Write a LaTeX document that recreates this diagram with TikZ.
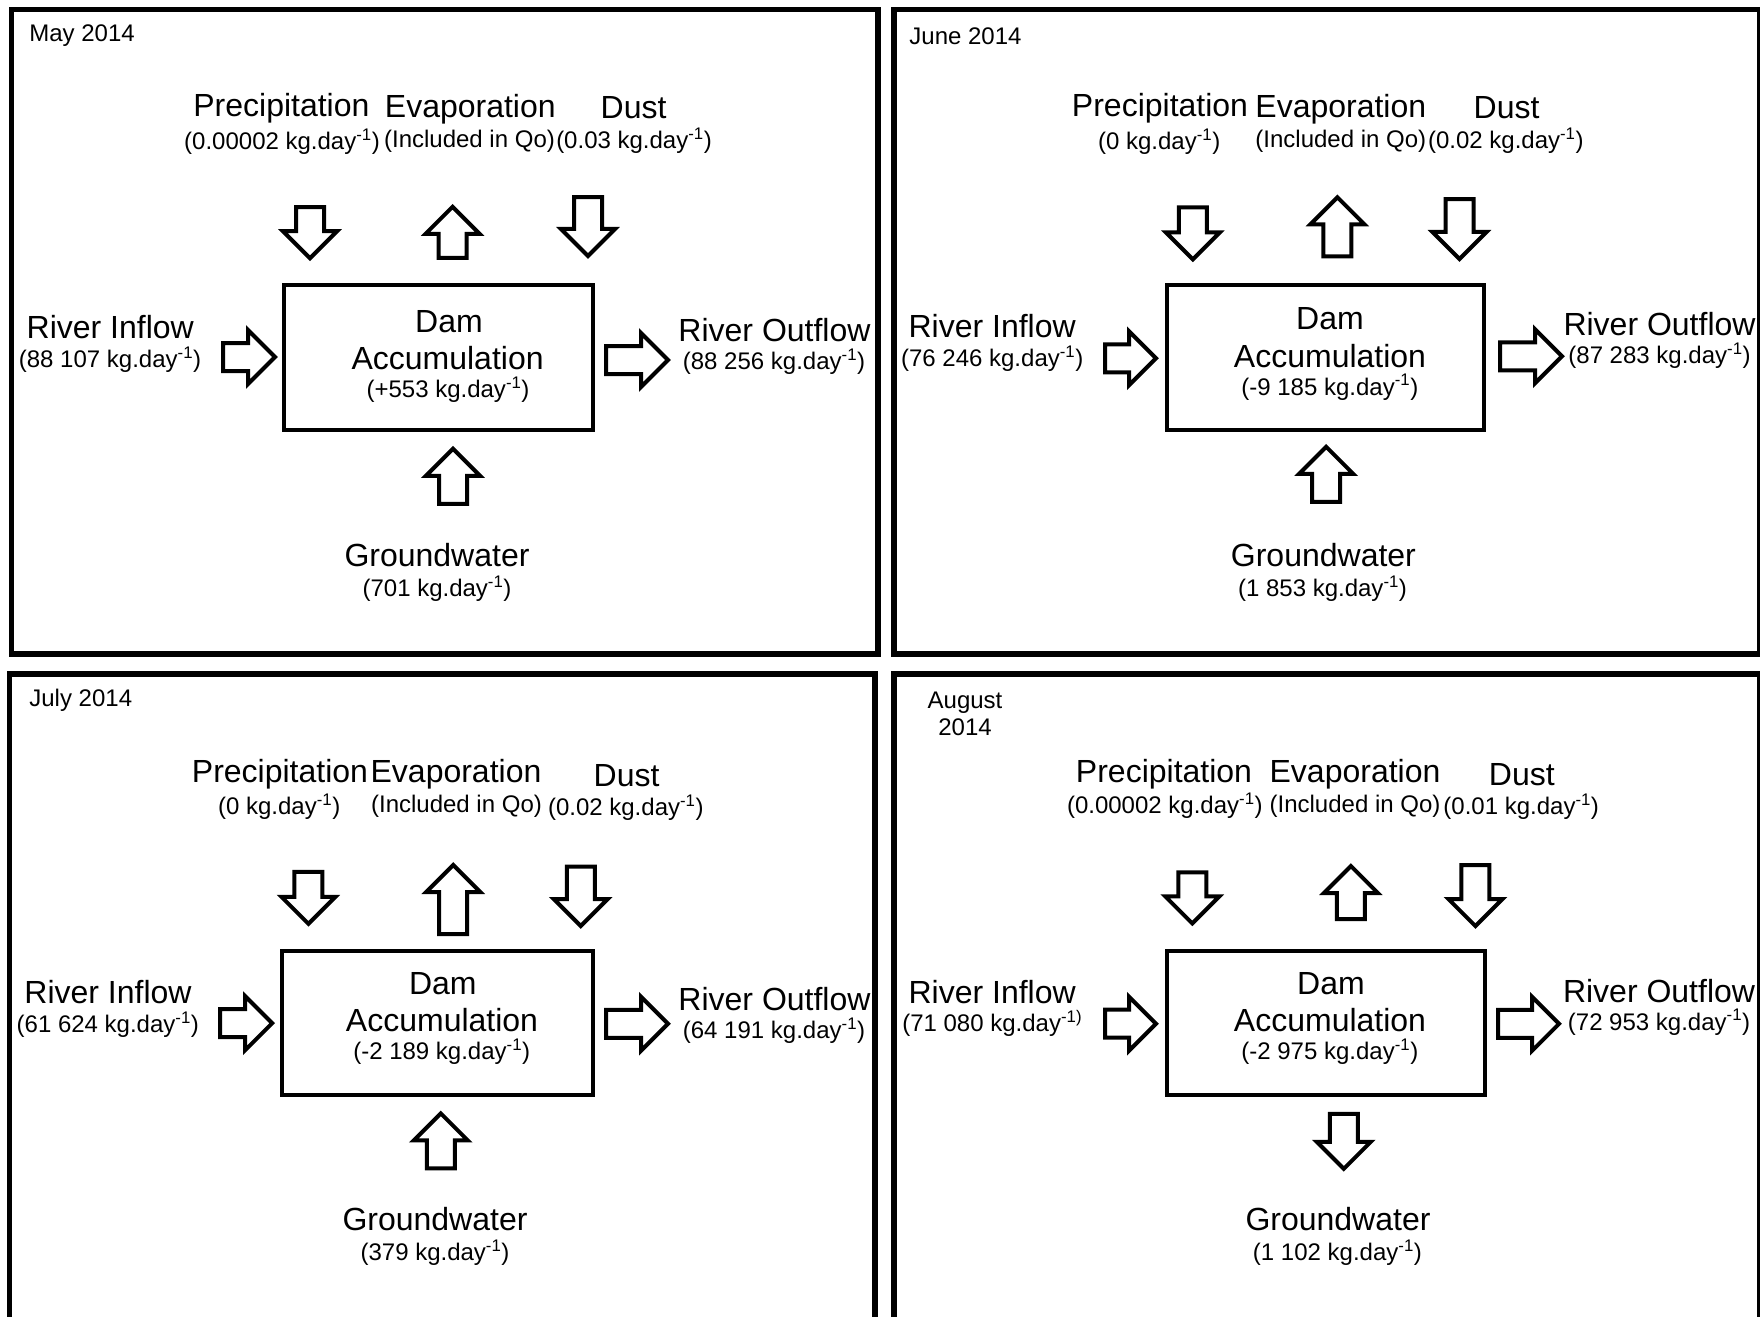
\documentclass[tikz,border=0pt]{standalone}
\usepackage{fontspec}
\setmainfont{Liberation Sans}
\usetikzlibrary{shapes.arrows}

\begin{document}
\begin{tikzpicture}[x=1pt,y=-1pt]
        \tikzset{big/.style={inner sep=0pt, font=\fontsize{32}{38}\selectfont},
                 small/.style={inner sep=0pt, font=\fontsize{24}{27.5}\selectfont},
                 panel/.style={draw, line width=5.5pt},
                 dambox/.style={draw, line width=4pt, inner sep=0pt, outer sep=0pt},
                 fat/.style={single arrow, draw, line width=4pt, fill=white, inner sep=12pt, outer sep=0pt,
                             single arrow head extend=13pt, single arrow tip angle=90, anchor=tip, minimum height=#1}}
        \useasboundingbox (0,0) rectangle (1760,1316);
        \draw [panel] (11.5,9.5) rectangle (878,654);
        \draw [panel] (894,9.5) rectangle (1760,654);
        \draw [panel] (9.5,674) rectangle (875,1330);
        \draw [panel] (894,674) rectangle (1760,1330);

        \node [small, anchor=west] (may) at (29.2,35.8) {May 2014};
        \node [big]   (prec1)  at (281.4,108.6) {Precipitation};
        \node [small] (precv1) at (282,142)     {(0.00002 kg.day\textsuperscript{-1})};
        \node [big]   (evap1)  at (470.3,109.4) {Evaporation};
        \node [small] (evapv1) at (469.5,141)   {(Included in Qo)};
        \node [big]   (dust1)  at (633.6,108)   {Dust};
        \node [small] (dustv1) at (634,141)     {(0.03 kg.day\textsuperscript{-1})};
        \node [big]   (in1)    at (110.3,327.5) {River Inflow};
        \node [small] (inv1)   at (110,360)     {(88 107 kg.day\textsuperscript{-1})};
        \node [big]   (out1)   at (774.5,330.4) {River Outflow};
        \node [small] (outv1)  at (774,362)     {(88 256 kg.day\textsuperscript{-1})};
        \node [dambox, minimum width=308.6, minimum height=144.9] (box1) at (438.6,357.4) {};
        \node [big]   (dam1)   at (449,322)     {Dam};
        \node [big]   (acc1)   at (447.6,357.8) {Accumulation};
        \node [small] (net1)   at (448,389.3)   {(+553 kg.day\textsuperscript{-1})};
        \node [big]   (gw1)    at (437,554.8)   {Groundwater};
        \node [small] (gwv1)   at (437,588.4)   {(701 kg.day\textsuperscript{-1})};
        \node [fat=51, rotate=-90] (pa1) at (310,258.2)   {};
        \node [fat=51, rotate=90]  (ea1) at (452.6,206.8) {};
        \node [fat=59, rotate=-90] (da1) at (588,256)     {};
        \node [fat=52]             (ia1) at (275,357)     {};
        \node [fat=62]             (oa1) at (668,360)     {};
        \node [fat=55, rotate=90]  (ga1) at (453,448.8)   {};

        \node [small, anchor=west] (june) at (909.2,35.8) {June 2014};
        \node [big]   (prec2)  at (1160,108.6)   {Precipitation};
        \node [small] (precv2) at (1159.2,142)   {(0 kg.day\textsuperscript{-1})};
        \node [big]   (evap2)  at (1340.8,109)   {Evaporation};
        \node [small] (evapv2) at (1340.8,141)   {(Included in Qo)};
        \node [big]   (dust2)  at (1506.6,108)   {Dust};
        \node [small] (dustv2) at (1505.8,141)   {(0.02 kg.day\textsuperscript{-1})};
        \node [big]   (in2)    at (992.2,326)    {River Inflow};
        \node [small] (inv2)   at (992.2,358.6)  {(76 246 kg.day\textsuperscript{-1})};
        \node [big]   (out2)   at (1659.5,324)   {River Outflow};
        \node [small] (outv2)  at (1659.5,355.7) {(87 283 kg.day\textsuperscript{-1})};
        \node [dambox, minimum width=317.6, minimum height=145] (box2) at (1325.3,357.8) {};
        \node [big]   (dam2)   at (1330,319)     {Dam};
        \node [big]   (acc2)   at (1330,355.7)   {Accumulation};
        \node [small] (net2)   at (1329.8,387.2) {(-9 185 kg.day\textsuperscript{-1})};
        \node [big]   (gw2)    at (1323.4,554.8) {Groundwater};
        \node [small] (gwv2)   at (1322.5,588.4) {(1 853 kg.day\textsuperscript{-1})};
        \node [fat=52, rotate=-90] (pa2) at (1192.9,259.4) {};
        \node [fat=59, rotate=90]  (ea2) at (1337.4,197.3) {};
        \node [fat=60, rotate=-90] (da2) at (1459.5,259)   {};
        \node [fat=51]             (ia2) at (1156,358.3)   {};
        \node [fat=62]             (oa2) at (1562,356.3)   {};
        \node [fat=55, rotate=90]  (ga2) at (1326.2,446.8) {};

        \node [small, anchor=west] (july) at (29.2,700.2) {July 2014};
        \node [big]   (prec3)  at (280,773.9)    {Precipitation};
        \node [small] (precv3) at (279.2,806.7)  {(0 kg.day\textsuperscript{-1})};
        \node [big]   (evap3)  at (456,774.7)    {Evaporation};
        \node [small] (evapv3) at (456.5,806.7)  {(Included in Qo)};
        \node [big]   (dust3)  at (626.6,776)    {Dust};
        \node [small] (dustv3) at (625.8,807.5)  {(0.02 kg.day\textsuperscript{-1})};
        \node [big]   (in3)    at (108,991.9)    {River Inflow};
        \node [small] (inv3)   at (107.8,1024.3) {(61 624 kg.day\textsuperscript{-1})};
        \node [big]   (out3)   at (774.5,999)    {River Outflow};
        \node [small] (outv3)  at (774,1030.6)   {(64 191 kg.day\textsuperscript{-1})};
        \node [dambox, minimum width=311.4, minimum height=144.6] (box3) at (437.2,1022.8) {};
        \node [big]   (dam3)   at (442.8,983.5)  {Dam};
        \node [big]   (acc3)   at (442,1020)     {Accumulation};
        \node [small] (net3)   at (441.7,1051.6) {(-2 189 kg.day\textsuperscript{-1})};
        \node [big]   (gw3)    at (435,1219.2)   {Groundwater};
        \node [small] (gwv3)   at (435,1252.8)   {(379 kg.day\textsuperscript{-1})};
        \node [fat=52, rotate=-90]   (pa3) at (308.4,923.8)  {};
        \node [fat=69, rotate=90]    (ea3) at (453.2,865)    {};
        \node [fat=59.5, rotate=-90] (da3) at (580.8,926)    {};
        \node [fat=52]               (ia3) at (272.2,1023.2) {};
        \node [fat=62]               (oa3) at (668,1023.8)   {};
        \node [fat=55, rotate=90]    (ga3) at (440.8,1113.4) {};

        \node [small, align=center] (aug) at (965,714) {August\\2014};
        \node [big]   (prec4)  at (1164,773.9)   {Precipitation};
        \node [small] (precv4) at (1164.8,805.8) {(0.00002 kg.day\textsuperscript{-1})};
        \node [big]   (evap4)  at (1355,774.7)   {Evaporation};
        \node [small] (evapv4) at (1355,805.8)   {(Included in Qo)};
        \node [big]   (dust4)  at (1521.8,774.7) {Dust};
        \node [small] (dustv4) at (1521.2,806.7) {(0.01 kg.day\textsuperscript{-1})};
        \node [big]   (in4)    at (992.2,991.9)  {River Inflow};
        \node [small] (inv4)   at (992.2,1023)   {(71 080 kg.day\textsuperscript{-1)}};
        \node [big]   (out4)   at (1659,990.6)   {River Outflow};
        \node [small] (outv4)  at (1659,1022.2)  {(72 953 kg.day\textsuperscript{-1})};
        \node [dambox, minimum width=318.7, minimum height=144.6] (box4) at (1325.9,1022.8) {};
        \node [big]   (dam4)   at (1331,983.5)   {Dam};
        \node [big]   (acc4)   at (1330,1020)    {Accumulation};
        \node [small] (net4)   at (1329.8,1051.6) {(-2 975 kg.day\textsuperscript{-1})};
        \node [big]   (gw4)    at (1338,1219.2)  {Groundwater};
        \node [small] (gwv4)   at (1337.4,1252.8) {(1 102 kg.day\textsuperscript{-1})};
        \node [fat=51, rotate=-90] (pa4) at (1192.3,923.4) {};
        \node [fat=53, rotate=90]  (ea4) at (1350.9,866)   {};
        \node [fat=61, rotate=-90] (da4) at (1475.4,926)   {};
        \node [fat=51]             (ia4) at (1156,1023.7)  {};
        \node [fat=61]             (oa4) at (1559,1023.8)  {};
        \node [fat=55, rotate=-90] (ga4) at (1343.8,1168.8) {};
    \end{tikzpicture}
\end{document}
